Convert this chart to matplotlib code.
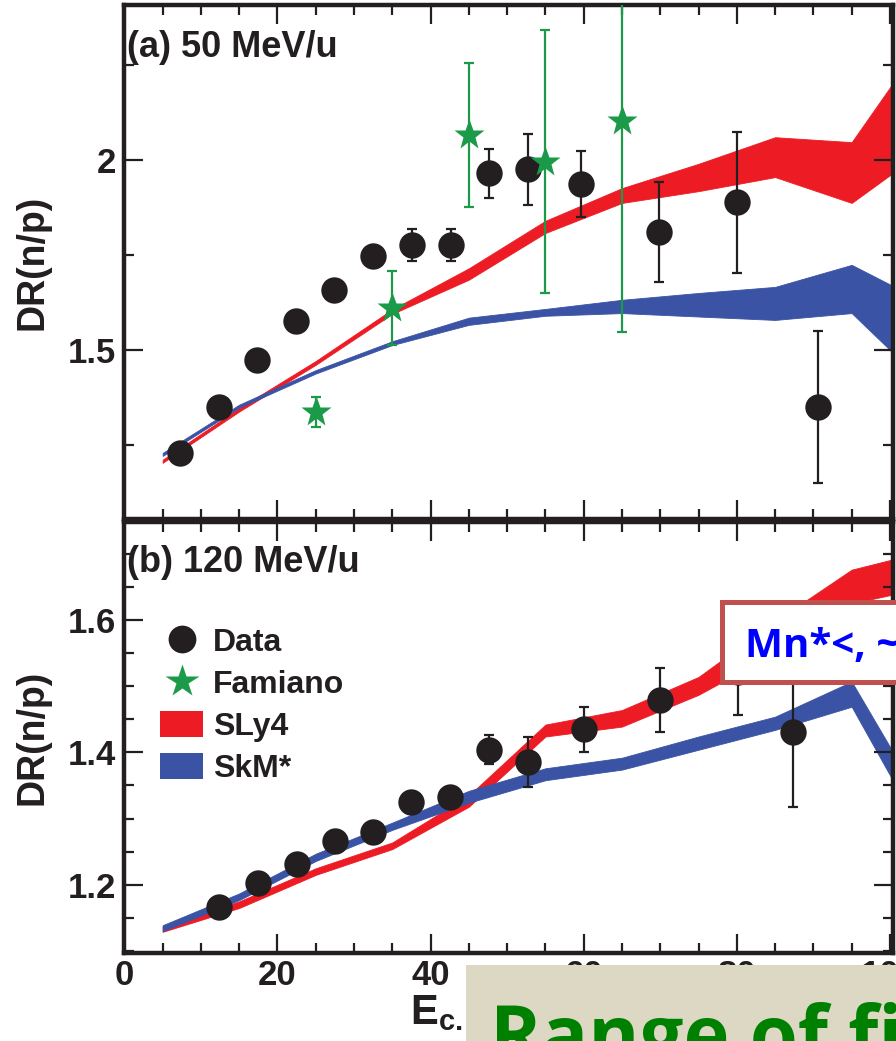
import matplotlib
matplotlib.use("Agg")
import matplotlib.pyplot as plt
from matplotlib.lines import Line2D
from matplotlib.patches import Patch, Rectangle
from matplotlib.ticker import MultipleLocator

# ---------------- data ----------------
# (a) 50 MeV/u : measured double ratio
data_x_a = [7.2, 12.3, 17.3, 22.4, 27.4, 32.5, 37.6, 42.6, 47.6, 52.7, 59.7, 69.8, 80.0, 90.6]
data_y_a = [1.229, 1.350, 1.474, 1.577, 1.658, 1.747, 1.776, 1.776, 1.965, 1.975, 1.937, 1.810, 1.889, 1.349]
data_err_a = [0.01, 0.01, 0.01, 0.01, 0.01, 0.01, 0.043, 0.043, 0.065, 0.094, 0.086, 0.131, 0.186, 0.20]

# (a) Famiano et al.
fam_x = [25, 35, 45, 55, 65]
fam_y = [1.337, 1.610, 2.066, 1.996, 2.103]
fam_err = [0.04, 0.098, 0.19, 0.346, 0.556]

# model grid energies
model_x = [5, 15, 25, 35, 45, 55, 65, 75, 85, 95, 105]

# (a) SLy4 / SkM* bands
sly4_lo_a = [1.203, 1.338, 1.461, 1.595, 1.685, 1.808, 1.887, 1.918, 1.955, 1.887, 2.033]
sly4_hi_a = [1.211, 1.347, 1.471, 1.607, 1.715, 1.840, 1.926, 1.990, 2.060, 2.047, 2.335]
skm_lo_a = [1.221, 1.348, 1.438, 1.513, 1.566, 1.590, 1.597, 1.588, 1.579, 1.597, 1.403]
skm_hi_a = [1.229, 1.356, 1.447, 1.523, 1.585, 1.608, 1.632, 1.650, 1.666, 1.724, 1.621]

# (b) 120 MeV/u : measured double ratio
data_x_b = [12.4, 17.4, 22.5, 27.5, 32.5, 37.5, 42.5, 47.6, 52.7, 60.0, 70.0, 80.1, 87.3]
data_y_b = [1.167, 1.202, 1.232, 1.266, 1.280, 1.325, 1.333, 1.404, 1.386, 1.435, 1.479, 1.522, 1.431]
data_err_b = [0.008, 0.008, 0.008, 0.008, 0.008, 0.008, 0.01, 0.022, 0.038, 0.034, 0.048, 0.065, 0.113]

# (b) SLy4 / SkM* bands
sly4_lo_b = [1.129, 1.165, 1.215, 1.254, 1.318, 1.424, 1.439, 1.487, 1.550, 1.625, 1.650]
sly4_hi_b = [1.137, 1.175, 1.225, 1.264, 1.335, 1.442, 1.464, 1.514, 1.598, 1.676, 1.705]
skm_lo_b = [1.130, 1.177, 1.236, 1.283, 1.324, 1.358, 1.374, 1.404, 1.434, 1.469, 1.262]
skm_hi_b = [1.139, 1.187, 1.247, 1.294, 1.342, 1.376, 1.392, 1.424, 1.454, 1.507, 1.310]

labels = ["Data", "Famiano", "SLy4", "SkM*"]
xticks = [0, 20, 40, 60, 80, 100]

# ---------------- style ----------------
plt.rcParams["font.family"] = ["Liberation Sans", "DejaVu Sans"]
plt.rcParams["font.weight"] = "bold"
plt.rcParams["axes.labelweight"] = "bold"
plt.rcParams["mathtext.fontset"] = "custom"
plt.rcParams["mathtext.rm"] = "Liberation Sans:bold"
plt.rcParams["mathtext.bf"] = "Liberation Sans:bold"
plt.rcParams["mathtext.it"] = "Liberation Sans:bold:italic"

INK = "#231f20"
RED = "#ed1c24"
BLUE = "#3a53a4"
GREEN = "#1b9a4a"

W, H = 896, 1041
fig = plt.figure(figsize=(W / 100, H / 100), dpi=100)
fig.patch.set_facecolor("white")


def px_axes(left, top, right, bottom):
    return [left / W, 1 - bottom / H, (right - left) / W, (bottom - top) / H]


ax1 = fig.add_axes(px_axes(124, 5, 893, 519))
ax2 = fig.add_axes(px_axes(124, 522, 893, 953), sharex=ax1)


def style_axis(ax, ymajor, yminor):
    for s in ax.spines.values():
        s.set_linewidth(3.2)
        s.set_color(INK)
    ax.xaxis.set_major_locator(MultipleLocator(20))
    ax.xaxis.set_minor_locator(MultipleLocator(5))
    ax.yaxis.set_major_locator(MultipleLocator(ymajor))
    ax.yaxis.set_minor_locator(MultipleLocator(yminor))
    ax.tick_params(which="both", direction="in", top=True, right=True,
                   width=1.6, color=INK, labelcolor=INK, labelsize=25)
    ax.tick_params(which="major", length=14)
    ax.tick_params(which="minor", length=7)
    ax.tick_params(axis="y", pad=6)
    ax.tick_params(axis="x", pad=4)
    ax.set_ylabel("DR(n/p)", fontsize=27, fontweight="bold", color=INK, labelpad=12)


def draw_panel(ax, dx, dy, derr, s_lo, s_hi, k_lo, k_hi):
    ax.fill_between(model_x, s_lo, s_hi, color=RED, lw=0.6, zorder=1)
    ax.fill_between(model_x, k_lo, k_hi, color=BLUE, lw=0.6, zorder=1)
    ax.errorbar(dx, dy, yerr=derr, fmt="o", ms=19, color=INK, mec="none",
                ecolor=INK, elinewidth=1.6, capsize=3.8, capthick=1.6, zorder=3)


# panel (a)
draw_panel(ax1, data_x_a, data_y_a, data_err_a, sly4_lo_a, sly4_hi_a, skm_lo_a, skm_hi_a)
ax1.errorbar(fam_x, fam_y, yerr=fam_err, fmt="*", ms=23, color=GREEN, mec="none",
             ecolor=GREEN, elinewidth=1.6, capsize=3.8, capthick=1.6, zorder=4)
style_axis(ax1, 0.5, 0.25)
ax1.set_ylim(1.055, 2.408)
ax1.set_yticks([1.5, 2.0])
ax1.set_yticklabels(["1.5", "2"])
ax1.tick_params(axis="x", labelbottom=False)
ax1.text(0.004, 0.899, "(a) 50 MeV/u", transform=ax1.transAxes, fontsize=26,
         fontweight="bold", color=INK, va="baseline", ha="left")

# panel (b)
draw_panel(ax2, data_x_b, data_y_b, data_err_b, sly4_lo_b, sly4_hi_b, skm_lo_b, skm_hi_b)
style_axis(ax2, 0.2, 0.05)
ax2.set_ylim(1.097, 1.748)
ax2.set_xlim(-0.05, 100.4)
ax2.set_xticks(xticks)
ax2.set_xticklabels([str(v) for v in xticks])
ax2.set_xlabel(r"E$_{\rm c.m.}$ (MeV)", fontsize=30, fontweight="bold", color=INK)
ax2.xaxis.set_label_coords(0.517, -0.089)
ax2.text(0.004, 0.884, "(b) 120 MeV/u", transform=ax2.transAxes, fontsize=26,
         fontweight="bold", color=INK, va="baseline", ha="left")

handles = [
    Line2D([], [], marker="o", ls="none", ms=20, color=INK, mec="none"),
    Line2D([], [], marker="*", ls="none", ms=25, color=GREEN, mec="none"),
    Patch(facecolor=RED, edgecolor="none"),
    Patch(facecolor=BLUE, edgecolor="none"),
]
leg = ax2.legend(handles, labels, loc="upper left", bbox_to_anchor=(0.047, 0.756),
                 frameon=False, borderpad=0, borderaxespad=0, fontsize=23,
                 handlelength=1.35, handleheight=0.87, handletextpad=0.3,
                 labelspacing=0.34)
for t in leg.get_texts():
    t.set_color(INK)
    t.set_fontweight("bold")

# call-out box over panel (b)
fig.add_artist(Rectangle((722 / W, 1 - 682 / H), 0.3, 80 / H, transform=fig.transFigure,
                         facecolor="white", edgecolor="#c0504d", lw=3.6, zorder=5))
fig.text(745 / W, 1 - 657 / H, "Mn*<, ~", fontsize=29, fontweight="bold",
         color="#0000ff", family=["Open Sans", "DejaVu Sans"], va="baseline", zorder=6)

# caption strip along the bottom
fig.add_artist(Rectangle((466 / W, 0), 0.6, (H - 965) / H, transform=fig.transFigure,
                         facecolor="#ddd8c4", edgecolor="none", zorder=5))
fig.text(490 / W, 1 - 1062 / H, "Range of fi", fontsize=56, fontweight="bold",
         color="#008000", family=["Open Sans", "DejaVu Sans"], va="baseline", zorder=6)

fig.savefig("out.png", dpi=100)
